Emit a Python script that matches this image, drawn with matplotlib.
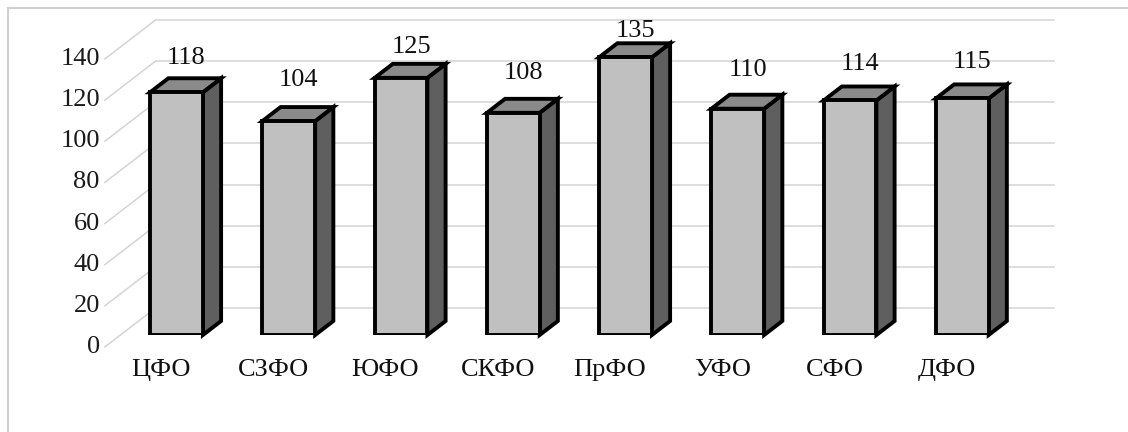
import numpy as np
import matplotlib
matplotlib.use('Agg')
import matplotlib.pyplot as plt
from matplotlib.patches import Polygon
from matplotlib.lines import Line2D
from matplotlib.transforms import IdentityTransform

# Федеральные округа и значения показателя
okruga = ['ЦФО', 'СЗФО', 'ЮФО', 'СКФО', 'ПрФО', 'УФО', 'СФО', 'ДФО']
znach = [118, 104, 125, 108, 135, 110, 114, 115]
yticks = [0, 20, 40, 60, 80, 100, 120, 140]

plt.rcParams['font.family'] = ['Liberation Serif', 'DejaVu Serif']
FS = 19

W, H = 1128, 432
fig = plt.figure(figsize=(W / 100, H / 100), dpi=100)
# передняя плоскость столбцов
ax = fig.add_axes([120.4 / W, 97 / H, 898 / W, 288 / H])
ax.set_xlim(-0.5, len(okruga) - 0.5)
ax.set_ylim(0, 140)
ax.axis('off')

DIR = np.array([1.3, 1.0])    # направление "вглубь" в пикселях
BAR_D = 14                    # глубина столбца
WALL_D = 27                   # задняя стенка
LBL_D = -12                   # плоскость подписей
bw = 0.47
EW = 2.8

def pt(x, y, d=0):
    return ax.transData.transform((x, y)) + d * DIR

ident = IdentityTransform()

# сетка на задней стенке и диагонали на боковой
for v in yticks:
    a, b = pt(-0.5, v, WALL_D), pt(len(okruga) - 0.5, v, WALL_D)
    fig.add_artist(Line2D([a[0], b[0]], [a[1], b[1]], transform=ident,
                          color='#d4d4d4', lw=1.1, zorder=1))
    c = pt(-0.5, v, LBL_D)
    fig.add_artist(Line2D([c[0], a[0]], [c[1], a[1]], transform=ident,
                          color='#d4d4d4', lw=1.1, zorder=1))
    fig.text(c[0] - 5, c[1], str(v), transform=ident, ha='right', va='center',
             fontsize=FS, color='#1a1a1a')

# объёмные столбцы: боковая и верхняя грани, затем передняя
for i, v in enumerate(znach):
    l, r = i - bw / 2, i + bw / 2
    side = [pt(r, 0), pt(r, v), pt(r, v, BAR_D), pt(r, 0, BAR_D)]
    top = [pt(l, v), pt(r, v), pt(r, v, BAR_D), pt(l, v, BAR_D)]
    fig.add_artist(Polygon(side, closed=True, transform=ident, facecolor='#5f5f5f',
                           edgecolor='black', lw=EW, joinstyle='miter', zorder=3))
    fig.add_artist(Polygon(top, closed=True, transform=ident, facecolor='#8a8a8a',
                           edgecolor='black', lw=EW, joinstyle='miter', zorder=3))

bars = ax.bar(range(len(okruga)), znach, width=bw, color='#c0c0c0',
              edgecolor='black', linewidth=EW, zorder=4)
for b in bars:
    b.set_joinstyle('miter')
ax.set_zorder(5)
ax.patch.set_visible(False)

# подписи значений над столбцами
for i, v in enumerate(znach):
    p = pt(i, v)
    fig.text(p[0] + 10, p[1] + 93.5 - 0.5 * v, str(v), transform=ident,
             ha='center', va='center', fontsize=FS, color='#111111', zorder=6)

# подписи округов
for i, name in enumerate(okruga):
    p = pt(i, 0, LBL_D)
    fig.text(p[0], p[1] - 23, name, transform=ident, ha='center', va='center',
             fontsize=FS, color='#111111')

# рамка области диаграммы
fig.add_artist(Line2D([8, 8], [0, H - 8], transform=ident, color='#d0d0d0', lw=1.5))
fig.add_artist(Line2D([8, W], [H - 8, H - 8], transform=ident, color='#d0d0d0', lw=1.5))

fig.savefig('out.png', dpi=100)
